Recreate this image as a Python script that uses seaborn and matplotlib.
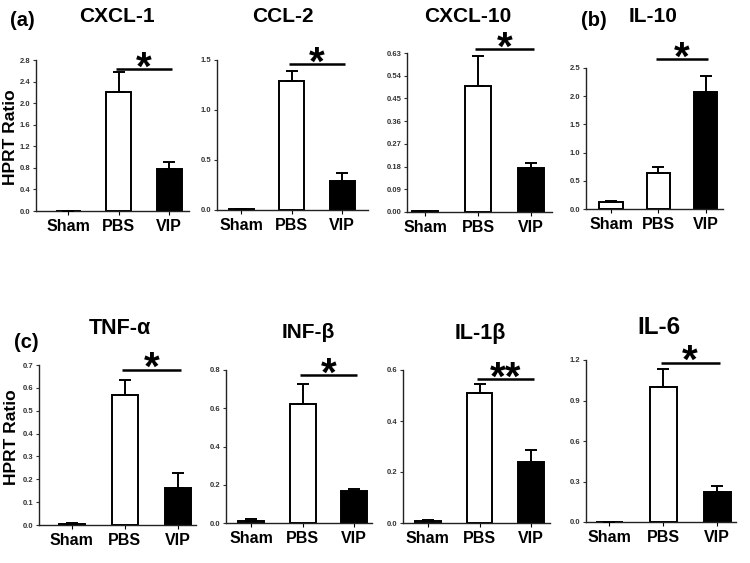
import numpy as np
import pandas as pd
import matplotlib
matplotlib.use("Agg")
import matplotlib.pyplot as plt
import seaborn as sns

# ---------------- data ----------------
groups = ["Sham", "PBS", "VIP"]
genes = ["CXCL-1", "CCL-2", "CXCL-10", "IL-10", "TNF-α", "INF-β", "IL-1β", "IL-6"]

cxcl1_mean = [0.005, 2.20, 0.78]
cxcl1_err = [0.0, 0.37, 0.12]
ccl2_mean = [0.01, 1.29, 0.29]
ccl2_err = [0.005, 0.10, 0.08]
cxcl10_mean = [0.002, 0.50, 0.175]
cxcl10_err = [0.0, 0.12, 0.02]
il10_mean = [0.13, 0.64, 2.07]
il10_err = [0.02, 0.11, 0.29]
tnfa_mean = [0.005, 0.57, 0.16]
tnfa_err = [0.003, 0.065, 0.068]
infb_mean = [0.012, 0.62, 0.165]
infb_err = [0.008, 0.105, 0.015]
il1b_mean = [0.008, 0.51, 0.24]
il1b_err = [0.005, 0.035, 0.045]
il6_mean = [0.003, 1.00, 0.22]
il6_err = [0.0, 0.13, 0.045]

means = [cxcl1_mean, ccl2_mean, cxcl10_mean, il10_mean, tnfa_mean, infb_mean, il1b_mean, il6_mean]
errs = [cxcl1_err, ccl2_err, cxcl10_err, il10_err, tnfa_err, infb_err, il1b_err, il6_err]

# significance: label and bracket height (data units)
sig_labels = ["*", "*", "*", "*", "*", "*", "**", "*"]
sig_heights = [2.63, 1.46, 0.646, 2.66, 0.68, 0.774, 0.565, 1.18]

# y tick labels
ytick_labels = [
    ["0.0", "0.4", "0.8", "1.2", "1.6", "2.0", "2.4", "2.8"],
    ["0.0", "0.5", "1.0", "1.5"],
    ["0.00", "0.09", "0.18", "0.27", "0.36", "0.45", "0.54", "0.63"],
    ["0.0", "0.5", "1.0", "1.5", "2.0", "2.5"],
    ["0.0", "0.1", "0.2", "0.3", "0.4", "0.5", "0.6", "0.7"],
    ["0.0", "0.2", "0.4", "0.6", "0.8"],
    ["0.0", "0.2", "0.4", "0.6"],
    ["0.0", "0.3", "0.6", "0.9", "1.2"],
]

# ---------------- layout (pixels) ----------------
W, H = 750, 563
# left px, top px, bottom px, xmin, xmax, spacing px
layout = [
    (36, 60, 211, -0.64, 2.38, 50.5),
    (217, 60, 210, -0.48, 2.51, 50.5),
    (407, 53, 212, -0.34, 2.40, 53.0),
    (586, 68, 209, -0.53, 2.37, 47.3),
    (39, 365, 525, -0.62, 2.35, 53.0),
    (226, 370, 523, -0.49, 2.35, 51.5),
    (403, 370, 523, -0.48, 2.36, 51.7),
    (586, 360, 522, -0.43, 2.35, 54.0),
]
title_pos = [(117, 17), (283, 17), (468, 17), (653, 17),
             (120, 329), (308, 332), (480, 333), (659, 328)]
title_size = [15, 15, 15, 15, 15.5, 15, 15.5, 17.5]

sns.set_theme(style="ticks")
plt.rcParams["font.family"] = ["Liberation Sans", "DejaVu Sans"]
plt.rcParams["font.weight"] = "bold"
plt.rcParams["text.color"] = "black"

fig = plt.figure(figsize=(W / 100, H / 100), dpi=100)
fig.patch.set_facecolor("white")

palette = {"Sham": "white", "PBS": "white", "VIP": "black"}

for i, gene in enumerate(genes):
    l, t, b, xmin, xmax, s = layout[i]
    w = (xmax - xmin) * s
    ax = fig.add_axes([l / W, 1 - b / H, w / W, (b - t) / H])
    df = pd.DataFrame({"group": groups, "value": means[i]})
    sns.barplot(data=df, x="group", y="value", hue="group", order=groups,
                hue_order=groups, palette=palette, edgecolor="black",
                linewidth=1.4, width=0.5, legend=False, ax=ax, zorder=2)
    ax.errorbar(x=np.arange(3), y=means[i],
                yerr=[np.zeros(3), errs[i]], fmt="none", ecolor="black",
                elinewidth=1.4, capsize=4, capthick=1.4, zorder=3)
    ticks = [float(v) for v in ytick_labels[i]]
    ax.set_yticks(ticks)
    ax.set_yticklabels(ytick_labels[i])
    ax.set_ylim(0, ticks[-1])
    ax.set_xlim(xmin, xmax)
    ax.set_xlabel("")
    ax.set_ylabel("")
    sns.despine(ax=ax)
    for sp in ["left", "bottom"]:
        ax.spines[sp].set_linewidth(1.0)
        ax.spines[sp].set_color("#222222")
    ax.tick_params(axis="y", length=2.5, width=0.8, labelsize=5.5, pad=1.5,
                   colors="#333333")
    ax.tick_params(axis="x", length=3, width=0.8, labelsize=11.5, pad=3,
                   colors="black")
    for lab in ax.get_xticklabels() + ax.get_yticklabels():
        lab.set_fontweight("bold")
    ax.set_facecolor("white")

    # significance bracket
    y = sig_heights[i]
    ax.plot([0.95, 2.05], [y, y], color="black", lw=1.8, clip_on=False,
            solid_capstyle="butt")
    ax.annotate(sig_labels[i], xy=(1.5, y), xytext=(0, -7.5),
                textcoords="offset points", ha="center", va="baseline",
                fontsize=29, fontweight="bold", color="black",
                annotation_clip=False)

    tx, ty = title_pos[i]
    fig.text(tx / W, 1 - ty / H, gene, ha="center", va="center",
             fontsize=title_size[i], fontweight="bold", color="black")

fig.text(22 / W, 1 - 20 / H, "(a)", ha="center", va="center", fontsize=14.5, fontweight="bold")
fig.text(594 / W, 1 - 20 / H, "(b)", ha="center", va="center", fontsize=14.5, fontweight="bold")
fig.text(26 / W, 1 - 343 / H, "(c)", ha="center", va="center", fontsize=14.5, fontweight="bold")
fig.text(11 / W, 1 - 137 / H, "HPRT Ratio", rotation=90, ha="center", va="center",
         fontsize=12.5, fontweight="bold")
fig.text(12 / W, 1 - 437 / H, "HPRT Ratio", rotation=90, ha="center", va="center",
         fontsize=12.5, fontweight="bold")

fig.savefig("out.png", dpi=100, facecolor="white")
